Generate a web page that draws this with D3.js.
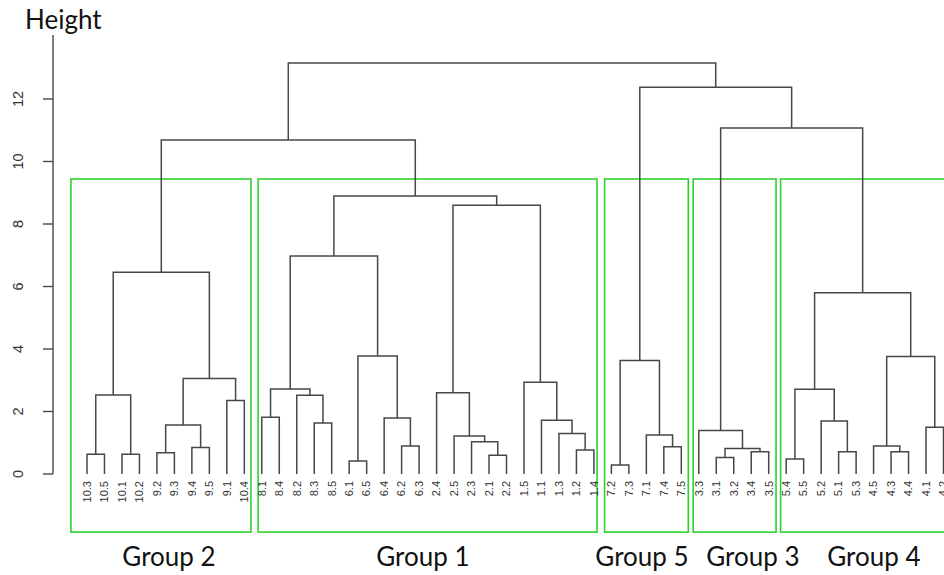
<!DOCTYPE html>
<html>
<head>
<meta charset="utf-8">
<script src="https://cdn.jsdelivr.net/npm/d3@7"></script>
<style>
  html, body { margin: 0; padding: 0; background: #fff; }
  svg { display: block; }
</style>
</head>
<body>
<svg id="chart" width="944" height="575"></svg>
<script>
// Leaf order along the bottom of the dendrogram
const leafLabels = [
  "10.3","10.5","10.1","10.2","9.2","9.3","9.4","9.5","9.1","10.4",
  "8.1","8.4","8.2","8.3","8.5","6.1","6.5","6.4","6.2","6.3",
  "2.4","2.5","2.3","2.1","2.2","1.5","1.1","1.3","1.2","1.4",
  "7.2","7.3","7.1","7.4","7.5",
  "3.3","3.1","3.2","3.4","3.5",
  "5.4","5.5","5.2","5.1","5.3","4.5","4.3","4.4","4.1","4.2"
];

// Merge steps: [left, right, height]; strings are leaves, numbers refer to earlier merges
const merges = [
  ["10.3","10.5",0.63], ["10.1","10.2",0.63], [0,1,2.53],
  ["9.2","9.3",0.68], ["9.4","9.5",0.85], [3,4,1.57],
  ["9.1","10.4",2.35], [5,6,3.06], [2,7,6.46],
  ["8.1","8.4",1.82], ["8.3","8.5",1.63], ["8.2",10,2.52], [9,11,2.72],
  ["6.1","6.5",0.42], ["6.2","6.3",0.90], ["6.4",14,1.79], [13,15,3.78],
  [12,16,6.98],
  ["2.1","2.2",0.60], ["2.3",18,1.03], ["2.5",19,1.22], ["2.4",20,2.60],
  ["1.2","1.4",0.77], ["1.3",22,1.30], ["1.1",23,1.72], ["1.5",24,2.94],
  [21,25,8.60], [17,26,8.90],
  [8,27,10.69],
  ["7.2","7.3",0.29], ["7.4","7.5",0.87], ["7.1",30,1.25], [29,31,3.63],
  ["3.1","3.2",0.53], ["3.4","3.5",0.71], [33,34,0.82], ["3.3",35,1.39],
  ["5.4","5.5",0.48], ["5.1","5.3",0.71], ["5.2",38,1.70], [37,39,2.71],
  ["4.3","4.4",0.71], ["4.5",41,0.90], ["4.1","4.2",1.50], [42,43,3.76],
  [40,44,5.80],
  [36,45,11.07], [32,46,12.38], [28,47,13.15]
];

// Cut groups: name, first and last leaf index covered by the box
const groupNames = ["Group 2","Group 1","Group 5","Group 3","Group 4"];
const groupFirstLeaf = [0, 10, 30, 35, 40];
const groupLastLeaf  = [9, 29, 34, 39, 49];

const yTicks = [0, 2, 4, 6, 8, 10, 12];

const svg = d3.select("#chart");

// Scales: leaf index -> x, merge height -> y
const x = d3.scaleLinear().domain([0, leafLabels.length - 1]).range([87, 943.5]);
const y = d3.scaleLinear().domain([0, 12]).range([474, 99]);

const LINE = "#474747";
const GREEN = "#2ed22e";

// Box extents around each group (leaf units, heights)
const boxPadLeft  = [0.92, 0.21, 0.39, 0.32, 0.32];
const boxPadRight = [0.38, 0.18, 0.40, 0.42, 0.60];
const boxTop = 9.44, boxBottom = -1.86;
// Caption centres, in leaf units
const captionAt = [4.69, 19.22, 31.75, 38.1, 45.02];

svg.append("g").selectAll("rect")
  .data(groupNames)
  .join("rect")
  .attr("x", (d, i) => x(groupFirstLeaf[i] - boxPadLeft[i]))
  .attr("y", y(boxTop))
  .attr("width", (d, i) => x(groupLastLeaf[i] + boxPadRight[i]) - x(groupFirstLeaf[i] - boxPadLeft[i]))
  .attr("height", y(boxBottom) - y(boxTop))
  .attr("fill", "none")
  .attr("stroke", GREEN)
  .attr("stroke-width", 1.6);

// Resolve node positions
const leafX = new Map(leafLabels.map((l, i) => [l, x(i)]));
const nodeX = [], nodeH = [];
function childPos(c) {
  if (typeof c === "string") return { x: leafX.get(c), h: 0 };
  return { x: nodeX[c], h: nodeH[c] };
}
const segs = [];
merges.forEach((m, i) => {
  const a = childPos(m[0]), b = childPos(m[1]);
  const h = m[2];
  nodeX[i] = (a.x + b.x) / 2;
  nodeH[i] = h;
  segs.push(`M${a.x},${y(a.h)}V${y(h)}H${b.x}V${y(b.h)}`);
});

svg.append("g").selectAll("path")
  .data(segs)
  .join("path")
  .attr("d", d => d)
  .attr("fill", "none")
  .attr("stroke", LINE)
  .attr("stroke-width", 1.5)
  .attr("stroke-linejoin", "miter");

// Leaf labels
svg.append("g").selectAll("text")
  .data(leafLabels)
  .join("text")
  .attr("transform", (d, i) => `translate(${x(i) + 3.8},481) rotate(-90)`)
  .attr("text-anchor", "end")
  .attr("font-family", "Liberation Sans, Arial, sans-serif")
  .attr("font-size", 11)
  .attr("fill", "#333")
  .text(d => d);

// Y axis
const axisX = 53;
const ax = svg.append("g").attr("transform", `translate(${axisX},0)`);
ax.append("line")
  .attr("x1", 0).attr("x2", 0)
  .attr("y1", y(0)).attr("y2", 35)
  .attr("stroke", LINE).attr("stroke-width", 1.4);
ax.selectAll("line.tick")
  .data(yTicks)
  .join("line")
  .attr("class", "tick")
  .attr("x1", -10).attr("x2", 0)
  .attr("y1", d => y(d)).attr("y2", d => y(d))
  .attr("stroke", LINE).attr("stroke-width", 1.4);
ax.selectAll("text")
  .data(yTicks)
  .join("text")
  .attr("transform", d => `translate(-35,${y(d)}) rotate(-90)`)
  .attr("text-anchor", "middle")
  .attr("dy", "0.35em")
  .attr("font-family", "Liberation Sans, Arial, sans-serif")
  .attr("font-size", 14.5)
  .attr("fill", "#333")
  .text(d => d);

// Axis title
svg.append("text")
  .attr("x", 25).attr("y", 29)
  .attr("font-family", "Lato, sans-serif")
  .attr("font-size", 26)
  .attr("fill", "#111")
  .text("Height");

// Group captions
svg.append("g").selectAll("text")
  .data(groupNames)
  .join("text")
  .attr("x", (d, i) => x(captionAt[i]))
  .attr("y", 566)
  .attr("text-anchor", "middle")
  .attr("font-family", "Lato, sans-serif")
  .attr("font-size", 26)
  .attr("fill", "#111")
  .text(d => d);
</script>
</body>
</html>
